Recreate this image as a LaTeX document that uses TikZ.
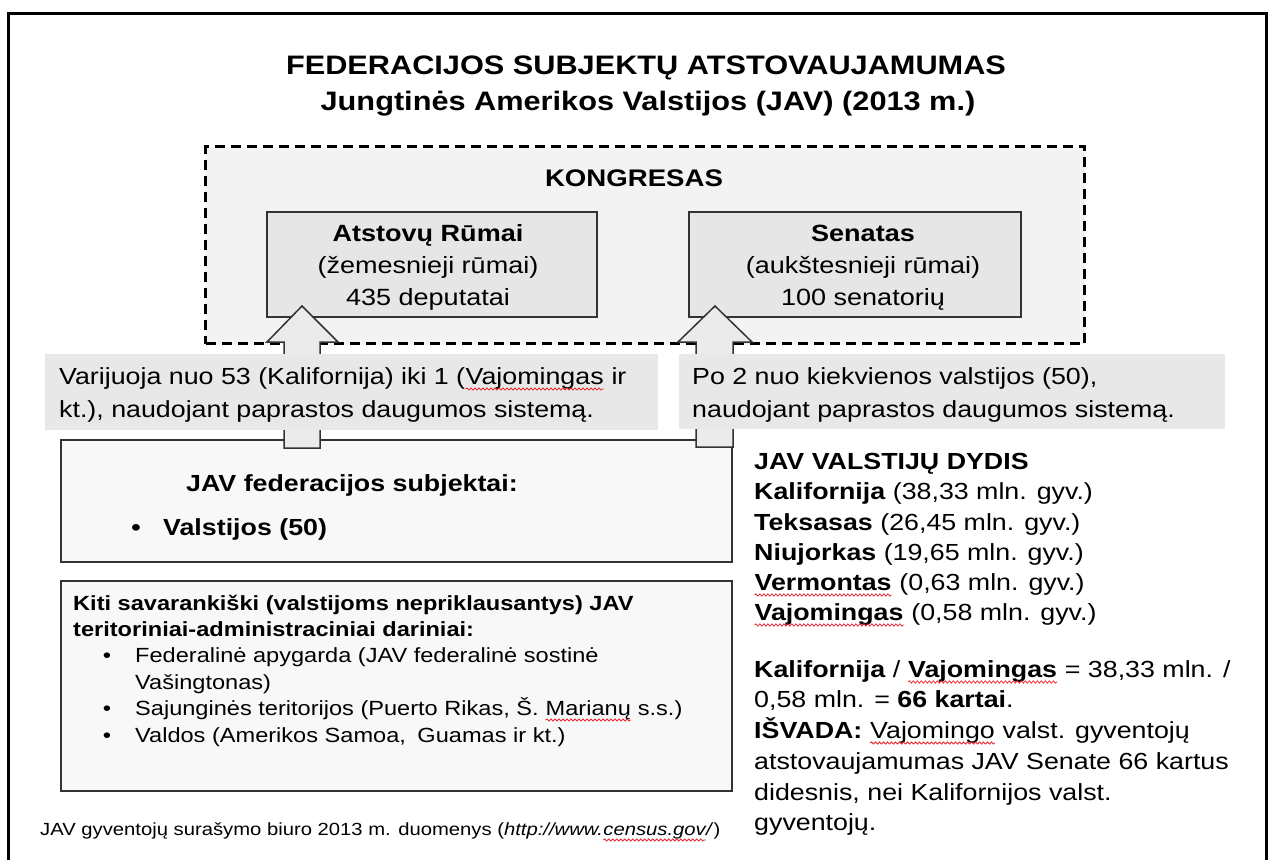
\documentclass[tikz,border=0pt]{standalone}
\usepackage{fontspec}
\setmainfont{Liberation Sans}[FakeStretch=1.15]
\usetikzlibrary{decorations.pathmorphing}
\definecolor{boxgray}{HTML}{E6E6E6}
\definecolor{txtgray}{HTML}{E8E8E8}
\definecolor{dashfill}{HTML}{F3F3F3}
\definecolor{panelfill}{HTML}{F8F8F8}
\definecolor{edge}{HTML}{333333}
\definecolor{arrowfill}{HTML}{EBEBEB}
\definecolor{spell}{HTML}{E8222B}
\newcommand\wavy[1]{\tikz[baseline=(w.base)]{\node[inner sep=0pt,outer sep=0pt,draw=none,fill=none,minimum width=0pt,minimum height=0pt](w){#1};\draw[spell,line width=0.8pt,decorate,decoration={snake,amplitude=1.1pt,segment length=4pt}]([yshift=-5pt]w.base west)--([yshift=-5pt]w.base east);}}
\tikzset{
  dashbox/.style={draw=black, line width=3pt, dash pattern=on 10pt off 6pt, fill=dashfill, inner sep=0pt, anchor=north west},
  housebox/.style={draw=edge, line width=1.5pt, fill=boxgray, inner sep=0pt, anchor=north west},
  panel/.style={draw=edge, line width=1.5pt, fill=panelfill, inner sep=0pt, anchor=north west},
  graytext/.style={fill=txtgray, draw=none, inner sep=0pt, anchor=north west},
  blockarrow/.style={draw=edge, line width=1.5pt, fill=arrowfill, line join=miter},
  ttl/.style={inner sep=0pt, anchor=base, font=\fontsize{26.7}{32}\selectfont\bfseries},
  hd/.style={inner sep=0pt, anchor=base, font=\fontsize{23.5}{28}\selectfont\bfseries},
  bc/.style={inner sep=0pt, anchor=base, font=\fontsize{23.5}{28}\selectfont},
  bl/.style={inner sep=0pt, anchor=base west, font=\fontsize{23.3}{28}\selectfont},
  bb/.style={inner sep=0pt, anchor=base west, font=\fontsize{23.3}{28}\selectfont\bfseries},
  sm/.style={inner sep=0pt, anchor=base west, font=\fontsize{20.5}{24}\selectfont},
  smb/.style={inner sep=0pt, anchor=base west, font=\fontsize{20.5}{24}\selectfont\bfseries},
  ft/.style={inner sep=0pt, anchor=base west, font=\fontsize{17.6}{21}\selectfont},
}
\begin{document}
\begin{tikzpicture}[x=1pt,y=-1pt]
\useasboundingbox[fill=white] (0,0) rectangle (1270,860);
% outer frame
\draw[line width=3pt,black] (8,866) -- (8,13) -- (1266,13) -- (1266,866);
% title
\node[ttl] (t1) at (646,74) {FEDERACIJOS SUBJEKTŲ ATSTOVAUJAMUMAS};
\node[ttl] (t2) at (648,110) {Jungtinės Amerikos Valstijos (JAV) (2013 m.)};
% congress
\node[dashbox, minimum width=879pt, minimum height=197pt] (kong) at (204,145) {};
\node[hd, font=\fontsize{24}{28}\selectfont\bfseries] (kongt) at (634,186) {KONGRESAS};
\node[housebox, minimum width=330pt, minimum height=105pt] (house) at (266,211) {};
\node[housebox, minimum width=332pt, minimum height=105pt] (senate) at (688,211) {};
\node[hd] (h1) at (428,241) {Atstovų Rūmai};
\node[bc] (h2) at (428,273) {(žemesnieji rūmai)};
\node[bc] (h3) at (428,305) {435 deputatai};
\node[hd] (s1) at (863,241) {Senatas};
\node[bc] (s2) at (863,273) {(aukštesnieji rūmai)};
\node[bc] (s3) at (863,305) {100 senatorių};
% panels
\node[panel, minimum width=671pt, minimum height=122pt] (fed) at (60,439) {};
\node[panel, minimum width=671pt, minimum height=210pt] (kiti) at (60,580) {};
% block arrows
\draw[blockarrow] (302,306) -- (338,342) -- (320,342) -- (320,448) -- (284,448) -- (284,342) -- (267,342) -- cycle;
\draw[blockarrow] (715,306) -- (752,342) -- (733,342) -- (733,447) -- (696,447) -- (696,342) -- (678,342) -- cycle;
% grey text boxes
\node[graytext, minimum width=613pt, minimum height=76pt] (gl) at (45,354) {};
\node[graytext, minimum width=546pt, minimum height=75pt] (gr) at (679,354) {};
\node[bl] (gl1) at (59,384) {Varijuoja nuo 53 (Kalifornija) iki 1 (\wavy{Vajomingas} ir};
\node[bl] (gl2) at (59,417) {kt.), naudojant paprastos daugumos sistemą.};
\node[bl] (gr1) at (692,384) {Po 2 nuo kiekvienos valstijos (50),};
\node[bl] (gr2) at (692,417) {naudojant paprastos daugumos sistemą.};
% federation subjects
\node[bb] (f1) at (186,491) {JAV federacijos subjektai:};
\node[bb, anchor=base] (fb) at (136,535) {•};
\node[bb] (f2) at (163,535) {Valstijos (50)};
% other territories
\node[smb] (k1) at (73,610) {Kiti savarankiški (valstijoms nepriklausantys) JAV};
\node[smb] (k2) at (73,636) {teritoriniai-administraciniai dariniai:};
\node[sm, anchor=base] (kb1) at (107,662) {•};
\node[sm] (k3) at (135,662) {Federalinė apygarda (JAV federalinė sostinė};
\node[sm] (k4) at (135,689) {Vašingtonas)};
\node[sm, anchor=base] (kb2) at (107,715) {•};
\node[sm] (k5) at (135,715) {Sajunginės teritorijos (Puerto Rikas, Š. \wavy{Marianų} s.s.)};
\node[sm, anchor=base] (kb3) at (107,742) {•};
\node[sm] (k6) at (135,742) {Valdos (Amerikos Samoa,\hspace{5pt} Guamas ir kt.)};
% footer
\node[ft] (foot) at (40,835) {JAV gyventojų surašymo biuro 2013 m. duomenys (\textit{http://www.\wavy{census.gov}/})};
% right column
\node[bb] (r0) at (754,469) {JAV VALSTIJŲ DYDIS};
\node[bl] (r1) at (754,499) {\textbf{Kalifornija} (38,33 mln. gyv.)};
\node[bl] (r2) at (754,530) {\textbf{Teksasas} (26,45 mln. gyv.)};
\node[bl] (r3) at (754,560) {\textbf{Niujorkas} (19,65 mln. gyv.)};
\node[bl] (r4) at (754,590) {\textbf{\wavy{Vermontas}} (0,63 mln. gyv.)};
\node[bl] (r5) at (754,620) {\textbf{\wavy{Vajomingas}} (0,58 mln. gyv.)};
\node[bl] (r6) at (754,677) {\textbf{Kalifornija} / \textbf{\wavy{Vajomingas}} = 38,33 mln. /};
\node[bl] (r7) at (754,707) {0,58 mln. = \textbf{66 kartai}.};
\node[bl] (r8) at (754,738) {\textbf{IŠVADA:} \wavy{Vajomingo} valst. gyventojų};
\node[bl] (r9) at (754,769) {atstovaujamumas JAV Senate 66 kartus};
\node[bl] (r10) at (754,800) {didesnis, nei Kalifornijos valst.};
\node[bl] (r11) at (754,830) {gyventojų.};
\end{tikzpicture}
\end{document}
